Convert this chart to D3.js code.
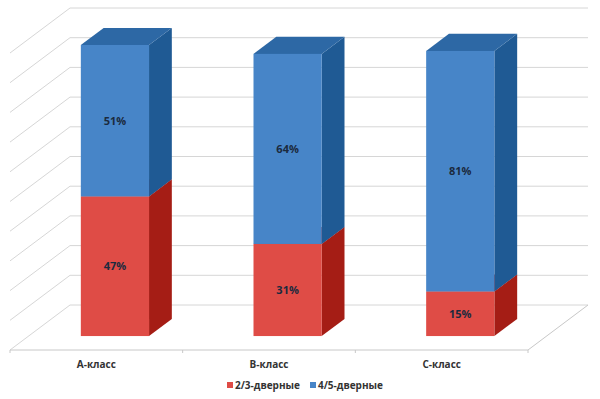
<!DOCTYPE html>
<html>
<head>
<meta charset="utf-8">
<script src="https://cdn.jsdelivr.net/npm/d3@7"></script>
<style>
  body { margin: 0; background: #fff; }
  text { font-family: "Open Sans", "Liberation Sans", sans-serif; }
</style>
</head>
<body>
<div id="chart"></div>
<script>
const categories = ['А-класс', 'В-класс', 'С-класс'];
const twoThreeDoor = [47, 31, 15];
const fourFiveDoor = [51, 64, 81];
const seriesNames = ['2/3-дверные', '4/5-дверные'];

const width = 600, height = 399;

// front plane of the floor, depth offset for the back wall
const floorY = 350, depthX = 60, depthY = 45;
const barFront = 0.31, barBack = 0.69;

const svg = d3.select('#chart').append('svg')
    .attr('width', width)
    .attr('height', height);

const x = d3.scaleBand()
    .domain(categories)
    .range([10, 528]);

const y = d3.scaleLinear()
    .domain([0, 100])
    .range([0, 297]);

// project (screen x on front plane, value, depth 0..1) to screen coords
const pt = (px, v, z) => [px + z * depthX, floorY - y(v) - z * depthY];
const poly = pts => 'M' + pts.map(p => p.join(',')).join('L') + 'Z';

// back wall gridlines and left wall diagonals
const grid = svg.append('g');
y.ticks(10).forEach(t => {
  const a = pt(x.range()[0], t, 1), b = pt(x.range()[1], t, 1), c = pt(x.range()[0], t, 0);
  grid.append('line')
      .attr('x1', a[0]).attr('y1', a[1]).attr('x2', b[0]).attr('y2', b[1])
      .attr('stroke', '#d6d6d6');
  grid.append('line')
      .attr('x1', c[0]).attr('y1', c[1]).attr('x2', a[0]).attr('y2', a[1])
      .attr('stroke', '#d6d6d6');
});

// floor front and right edges
const f0 = pt(x.range()[0], 0, 0), f1 = pt(x.range()[1], 0, 0), f2 = pt(x.range()[1], 0, 1);
grid.append('path')
    .attr('d', `M${f0}L${f1}L${f2}`)
    .attr('fill', 'none')
    .attr('stroke', '#c8c8c8');

// small ticks between categories
[...categories.map(c => x(c)), x.range()[1]].forEach(px => {
  grid.append('line')
      .attr('x1', px).attr('x2', px)
      .attr('y1', floorY).attr('y2', floorY + 3)
      .attr('stroke', '#c8c8c8');
});

const palette = [
  { front: '#df4c46', side: '#a51d15', top: '#c23630' },
  { front: '#4785c8', side: '#1f5a94', top: '#2d68a5' }
];

const barW = x.bandwidth() * 0.395;
const bars = svg.append('g');

categories.forEach((cat, i) => {
  const x0 = x(cat) + (x.bandwidth() - barW) / 2;
  const x1 = x0 + barW;
  const segs = [[0, twoThreeDoor[i]], [twoThreeDoor[i], twoThreeDoor[i] + fourFiveDoor[i]]];
  segs.forEach(([lo, hi], s) => {
    const c = palette[s];
    // side face
    bars.append('path')
        .attr('d', poly([pt(x1, lo, barFront), pt(x1, lo, barBack), pt(x1, hi, barBack), pt(x1, hi, barFront)]))
        .attr('fill', c.side);
    // top face
    bars.append('path')
        .attr('d', poly([pt(x0, hi, barFront), pt(x1, hi, barFront), pt(x1, hi, barBack), pt(x0, hi, barBack)]))
        .attr('fill', c.top);
    // front face
    const a = pt(x0, hi, barFront), b = pt(x1, lo, barFront);
    bars.append('rect')
        .attr('x', a[0]).attr('y', a[1])
        .attr('width', b[0] - a[0]).attr('height', b[1] - a[1])
        .attr('fill', c.front);
    bars.append('text')
        .attr('x', (a[0] + b[0]) / 2)
        .attr('y', (a[1] + b[1]) / 2)
        .attr('dy', '0.35em')
        .attr('text-anchor', 'middle')
        .attr('font-size', 11)
        .attr('font-weight', 'bold')
        .attr('fill', '#1b2a3e')
        .text((hi - lo) + '%');
  });
});

// category labels
svg.append('g').selectAll('text')
    .data(categories)
  .join('text')
    .attr('x', d => x(d) + x.bandwidth() / 2)
    .attr('y', 364)
    .attr('dy', '0.35em')
    .attr('text-anchor', 'middle')
    .attr('font-size', 10)
    .attr('font-weight', 'bold')
    .attr('fill', '#333')
    .text(d => d);

// legend
const legend = svg.append('g');
const legendX = [227, 310];
seriesNames.forEach((name, s) => {
  legend.append('rect')
      .attr('x', legendX[s]).attr('y', 382)
      .attr('width', 6).attr('height', 6)
      .attr('fill', palette[s].front);
  legend.append('text')
      .attr('x', legendX[s] + 8)
      .attr('y', 385)
      .attr('dy', '0.35em')
      .attr('font-size', 10)
      .attr('font-weight', 'bold')
      .attr('fill', '#333')
      .text(name);
});
</script>
</body>
</html>
